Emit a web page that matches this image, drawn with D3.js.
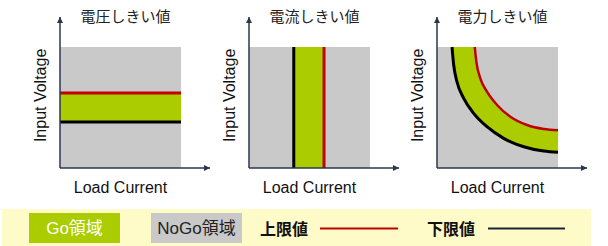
<!DOCTYPE html>
<html>
<head>
<meta charset="utf-8">
<script src="https://cdn.jsdelivr.net/npm/d3@7"></script>
<style>
  body { margin: 0; background: #fff; }
  svg { display: block; }
  text { font-family: "Liberation Sans", Arial, "Noto Sans CJK JP", sans-serif; }
</style>
</head>
<body>
<svg id="svg" width="608" height="246"></svg>
<script>
// グラフのデータ
const titles = ["電圧しきい値", "電流しきい値", "電力しきい値"];
const xLabel = "Load Current";
const yLabel = "Input Voltage";
// 電圧しきい値 (縦軸 0-100)
const voltageLimits = [62, 38]; // 上限, 下限
// 電流しきい値 (横軸 0-100)
const currentLimits = [62, 37]; // 上限, 下限
// 電力しきい値の曲線 [電流, 電圧]
const powerUpper = [[31.2, 100], [32.5, 87.9], [35.8, 74.1], [41.3, 63.1], [49.6, 52.1],
  [60.6, 42.4], [74.4, 35.5], [88.2, 32.2], [100, 31.2]];
const powerLower = [[12.4, 100], [13.8, 85.1], [16.5, 71.3], [22.1, 57.6], [30.3, 45.2],
  [41.3, 34.1], [55.1, 24.5], [71.7, 17.6], [88.2, 14.0], [100, 13.0]];
// 凡例
const legendAreas = [
  { label: "Go領域", fill: "#abcd00", color: "#fff" },
  { label: "NoGo領域", fill: "#c9c9c9", color: "#222" }
];
const legendLines = [
  { label: "上限値", stroke: "#c00000" },
  { label: "下限値", stroke: "#1e2538" }
];

const GREEN = "#abcd00";
const GRAY = "#c9c9c9";
const RED = "#c00000";
const BLACK = "#000";
const AXIS = "#2e3450";

const svg = d3.select("#svg");

//矢印のマーカー
svg.append("defs").append("marker")
  .attr("id", "arrow")
  .attr("markerUnits", "userSpaceOnUse")
  .attr("viewBox", "0 0 10 10")
  .attr("refX", 10)
  .attr("refY", 5)
  .attr("markerWidth", 7)
  .attr("markerHeight", 6)
  .attr("orient", "auto")
  .append("path")
  .attr("d", "M0,0 L10,5 L0,10 Z")
  .attr("fill", AXIS);

const panelX = [60, 249, 437];
const plotTop = 47, plotBottom = 168, plotSize = 121;

panelX.forEach((x0, i) => {
  const x = d3.scaleLinear().domain([0, 100]).range([x0, x0 + plotSize]);
  const y = d3.scaleLinear().domain([0, 100]).range([plotBottom, plotTop]);
  const g = svg.append("g");

  // NoGo領域
  g.append("rect")
    .attr("x", x(0)).attr("y", y(100))
    .attr("width", x(100) - x(0)).attr("height", y(0) - y(100))
    .attr("fill", GRAY);

  if (i === 0) {
    g.append("rect")
      .attr("x", x(0)).attr("y", y(voltageLimits[0]))
      .attr("width", x(100) - x(0))
      .attr("height", y(voltageLimits[1]) - y(voltageLimits[0]))
      .attr("fill", GREEN);
    voltageLimits.forEach((v, k) => {
      g.append("line")
        .attr("x1", x(0)).attr("x2", x(100))
        .attr("y1", y(v)).attr("y2", y(v))
        .attr("stroke", k === 0 ? RED : BLACK)
        .attr("stroke-width", 3);
    });
  } else if (i === 1) {
    g.append("rect")
      .attr("x", x(currentLimits[1])).attr("y", y(100))
      .attr("width", x(currentLimits[0]) - x(currentLimits[1]))
      .attr("height", y(0) - y(100))
      .attr("fill", GREEN);
    currentLimits.forEach((c, k) => {
      g.append("line")
        .attr("x1", x(c)).attr("x2", x(c))
        .attr("y1", y(100)).attr("y2", y(0))
        .attr("stroke", k === 0 ? RED : BLACK)
        .attr("stroke-width", 3);
    });
  } else {
    const line = d3.line()
      .x(d => x(d[0])).y(d => y(d[1]))
      .curve(d3.curveMonotoneX);
    const upperD = line(powerUpper);
    const lowerD = line(powerLower);
    // 上限より下をGoで塗り、下限より下をNoGoで塗り直す
    g.append("path")
      .attr("d", `M${x(0)},${y(100)}L` + upperD.slice(1) + `L${x(100)},${y(0)}L${x(0)},${y(0)}Z`)
      .attr("fill", GREEN);
    g.append("path")
      .attr("d", `M${x(0)},${y(100)}L` + lowerD.slice(1) + `L${x(100)},${y(0)}L${x(0)},${y(0)}Z`)
      .attr("fill", GRAY);
    g.append("path").attr("d", upperD)
      .attr("fill", "none").attr("stroke", RED).attr("stroke-width", 2.5);
    g.append("path").attr("d", lowerD)
      .attr("fill", "none").attr("stroke", BLACK).attr("stroke-width", 3);
  }

  // 軸
  g.append("line")
    .attr("x1", x(0)).attr("y1", y(0))
    .attr("x2", x(0)).attr("y2", y(100) - 30)
    .attr("stroke", AXIS).attr("stroke-width", 1.5)
    .attr("marker-end", "url(#arrow)");
  g.append("line")
    .attr("x1", x(0)).attr("y1", y(0))
    .attr("x2", x(100) + 29).attr("y2", y(0))
    .attr("stroke", AXIS).attr("stroke-width", 1.5)
    .attr("marker-end", "url(#arrow)");

  // タイトル
  g.append("text")
    .attr("x", x(50) + 5).attr("y", 22)
    .attr("text-anchor", "middle")
    .attr("font-size", 15)
    .attr("fill", "#222")
    .text(titles[i]);

  // 軸ラベル
  g.append("text")
    .attr("x", x(50)).attr("y", 193)
    .attr("text-anchor", "middle")
    .attr("font-size", 16)
    .attr("fill", "#111")
    .text(xLabel);
  g.append("text")
    .attr("transform", `translate(${x0 - 14},${y(60)}) rotate(-90)`)
    .attr("text-anchor", "middle")
    .attr("font-size", 16)
    .attr("fill", "#111")
    .text(yLabel);
});

// 凡例
const legend = svg.append("g");
legend.append("rect")
  .attr("x", 2).attr("y", 209)
  .attr("width", 589).attr("height", 37)
  .attr("fill", "#fffbc9");

const areaX = [29, 151];
legendAreas.forEach((d, i) => {
  legend.append("rect")
    .attr("x", areaX[i]).attr("y", 213)
    .attr("width", 91).attr("height", 30)
    .attr("fill", d.fill);
  legend.append("text")
    .attr("x", areaX[i] + 45.5).attr("y", 228.5)
    .attr("dy", "0.35em")
    .attr("text-anchor", "middle")
    .attr("font-size", 17)
    .attr("fill", d.color)
    .text(d.label);
});

const lineTextX = [260, 427];
const lineX = [[320, 398], [488, 565]];
legendLines.forEach((d, i) => {
  legend.append("text")
    .attr("x", lineTextX[i]).attr("y", 229)
    .attr("dy", "0.35em")
    .attr("font-size", 16)
    .attr("font-weight", "bold")
    .attr("fill", "#111")
    .text(d.label);
  legend.append("line")
    .attr("x1", lineX[i][0]).attr("x2", lineX[i][1])
    .attr("y1", 228.5).attr("y2", 228.5)
    .attr("stroke", d.stroke).attr("stroke-width", 2);
});
</script>
</body>
</html>
